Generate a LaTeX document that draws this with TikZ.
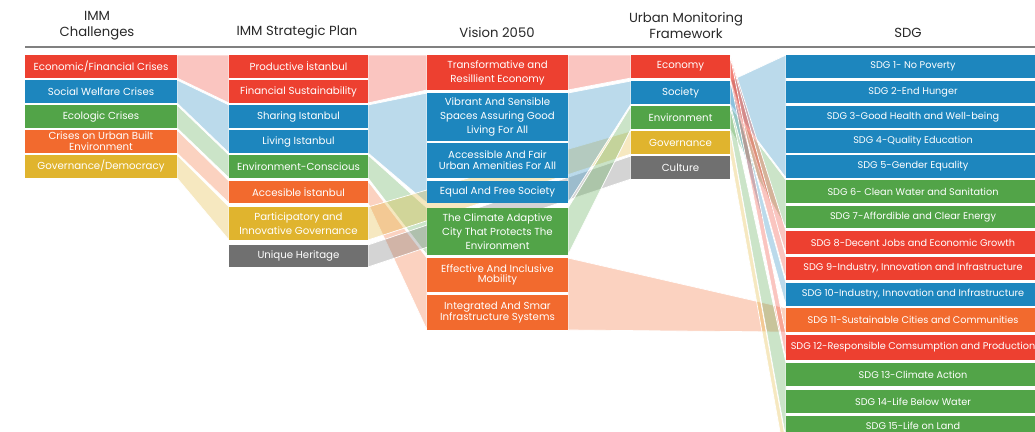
\documentclass[tikz,border=0pt]{standalone}
\usepackage{fontspec}
\setmainfont{Poppins}
\usetikzlibrary{calc,backgrounds}
\definecolor{cRed}{RGB}{237,64,48}
\definecolor{cBlue}{RGB}{29,134,190}
\definecolor{cGreen}{RGB}{82,164,72}
\definecolor{cOrange}{RGB}{242,106,46}
\definecolor{cYellow}{RGB}{224,180,46}
\definecolor{cGray}{RGB}{112,112,112}
\definecolor{cHead}{RGB}{40,40,40}
\definecolor{cRule}{RGB}{128,128,128}
\tikzset{
  box/.style={inner sep=0pt, outer sep=0pt, text=white, align=center, anchor=north west,
              font=\fontsize{10.2}{14}\selectfont},
  tight/.style={font=\fontsize{10.2}{10.7}\selectfont},
  sdg/.style={font=\fontsize{9.7}{12}\selectfont},
  band/.style={fill opacity=0.3, draw=white, draw opacity=1, line width=0.7pt, line join=round},
  head/.style={text=cHead, align=center, font=\fontsize{13.2}{15.5}\selectfont},
  hrule/.style={draw=cRule, line width=2.2pt},
}
\newcommand\flow[5]{\draw[band, fill=#1] (#2) -- (#4) -- (#5) -- (#3) -- cycle;}
\begin{document}
\begin{tikzpicture}[x=1pt,y=-1pt]
\useasboundingbox (0,0) rectangle (1035,431);
\clip (0,0) rectangle (1035,431);

% ---------- headers ----------
\node[head] (h1) at (97,25.5) {IMM\\Challenges};
\node[head] (h2) at (297,32.5) {IMM Strategic Plan};
\node[head] (h3) at (497,32.5) {Vision 2050};
\node[head] (h4) at (686,25.5) {Urban Monitoring\\Framework};
\node[head] (h5) at (908,32.5) {SDG};
\coordinate (rl) at (25,47);
\coordinate (rr) at (1036,47);
\draw[hrule] (rl) -- (rr);

% ---------- boxes (column 1) ----------
\node[box, fill=cRed,    minimum width=152pt, minimum height=23pt] (c1a) at (25,55) {Economic/Financial Crises};
\node[box, fill=cBlue,   minimum width=152pt, minimum height=23pt] (c1b) at (25,80) {Social Welfare Crises};
\node[box, fill=cGreen,  minimum width=152pt, minimum height=23pt] (c1c) at (25,105) {Ecologic Crises};
\node[box, tight, fill=cOrange, minimum width=152pt, minimum height=23pt] (c1d) at (25,130) {Crises on Urban Built\\Environment};
\node[box, fill=cYellow, minimum width=152pt, minimum height=23pt] (c1e) at (25,155) {Governance/Democracy};
% column 2
\node[box, fill=cRed,    minimum width=139pt, minimum height=23pt] (c2a) at (229,55) {Productive İstanbul};
\node[box, fill=cRed,    minimum width=139pt, minimum height=23pt] (c2b) at (229,80) {Financial Sustainability};
\node[box, fill=cBlue,   minimum width=139pt, minimum height=23pt] (c2c) at (229,105) {Sharing Istanbul};
\node[box, fill=cBlue,   minimum width=139pt, minimum height=23pt] (c2d) at (229,130) {Living Istanbul};
\node[box, fill=cGreen,  minimum width=139pt, minimum height=23pt] (c2e) at (229,155) {Environment-Conscious};
\node[box, fill=cOrange, minimum width=139pt, minimum height=22pt] (c2f) at (229,181) {Accesible İstanbul};
\node[box, fill=cYellow, minimum width=139pt, minimum height=33pt] (c2g) at (229,207) {Participatory and\\Innovative Governance};
\node[box, fill=cGray,   minimum width=139pt, minimum height=22pt] (c2h) at (229,245) {Unique Heritage};
% column 3
\node[box, fill=cRed,    minimum width=141pt, minimum height=35pt] (c3a) at (427,55) {Transformative and\\Resillient Economy};
\node[box, fill=cBlue,   minimum width=141pt, minimum height=48pt] (c3b) at (427,93) {Vibrant And Sensible\\Spaces Assuring Good\\Living For All};
\node[box, tight, fill=cBlue, minimum width=141pt, minimum height=35pt] (c3c) at (427,143) {Accessible And Fair\\Urban Amenities For All};
\node[box, fill=cBlue,   minimum width=141pt, minimum height=22pt] (c3d) at (427,181) {Equal And Free Society};
\node[box, fill=cGreen,  minimum width=141pt, minimum height=47pt] (c3e) at (427,208) {The Climate Adaptive\\City That Protects The\\Environment};
\node[box, tight, fill=cOrange, minimum width=141pt, minimum height=34pt] (c3f) at (427,258) {Effective And Inclusive\\Mobility};
\node[box, tight, fill=cOrange, minimum width=141pt, minimum height=35pt] (c3g) at (427,295) {Integrated And Smar\\Infrastructure Systems};
% column 4
\node[box, fill=cRed,    minimum width=99pt, minimum height=23pt] (c4a) at (631,55) {Economy};
\node[box, fill=cBlue,   minimum width=99pt, minimum height=23pt] (c4b) at (631,81) {Society};
\node[box, fill=cGreen,  minimum width=99pt, minimum height=23pt] (c4c) at (631,106) {Environment};
\node[box, fill=cYellow, minimum width=99pt, minimum height=23pt] (c4d) at (631,131) {Governance};
\node[box, fill=cGray,   minimum width=99pt, minimum height=23pt] (c4e) at (631,156) {Culture};
% column 5
\node[box, sdg, fill=cBlue,   minimum width=254pt, minimum height=23pt] (s1)  at (786,55)  {SDG 1- No Poverty};
\node[box, sdg, fill=cBlue,   minimum width=254pt, minimum height=22pt] (s2)  at (786,81)  {SDG 2-End Hunger};
\node[box, sdg, fill=cBlue,   minimum width=254pt, minimum height=22pt] (s3)  at (786,106) {SDG 3-Good Health and Well-being};
\node[box, sdg, fill=cBlue,   minimum width=254pt, minimum height=23pt] (s4)  at (786,130) {SDG 4-Quality Education};
\node[box, sdg, fill=cBlue,   minimum width=254pt, minimum height=23pt] (s5)  at (786,155) {SDG 5-Gender Equality};
\node[box, sdg, fill=cGreen,  minimum width=254pt, minimum height=23pt] (s6)  at (786,180) {SDG 6- Clean Water and Sanitation};
\node[box, sdg, fill=cGreen,  minimum width=254pt, minimum height=22pt] (s7)  at (786,206) {SDG 7-Affordible and Clear Energy};
\node[box, sdg, fill=cRed,    minimum width=254pt, minimum height=23pt] (s8)  at (786,231) {SDG 8-Decent Jobs and Economic Growth};
\node[box, sdg, fill=cRed,    minimum width=254pt, minimum height=23pt] (s9)  at (786,257) {SDG 9-Industry, Innovation and Infrastructure};
\node[box, sdg, fill=cBlue,   minimum width=254pt, minimum height=23pt] (s10) at (786,283) {SDG 10-Industry, Innovation and Infrastructure};
\node[box, sdg, fill=cOrange, minimum width=254pt, minimum height=24pt] (s11) at (786,308) {SDG 11-Sustainable Cities and Communities};
\node[box, sdg, fill=cRed,    minimum width=254pt, minimum height=25pt] (s12) at (786,335) {SDG 12-Responsible Comsumption and Production};
\node[box, sdg, fill=cGreen,  minimum width=254pt, minimum height=23pt] (s13) at (786,363) {SDG 13-Climate Action};
\node[box, sdg, fill=cGreen,  minimum width=254pt, minimum height=23pt] (s14) at (786,390) {SDG 14-Life Below Water};
\node[box, sdg, fill=cGreen,  minimum width=254pt, minimum height=23pt] (s15) at (786,416) {};
\node[sdg, text=white, anchor=base, inner sep=0pt] (s15t) at (913,429.5) {SDG 15-Life on Land};
\coordinate (s16t) at (786,442);
\coordinate (s16b) at (786,465);

% ---------- flows (drawn behind the boxes) ----------
\begin{pgfonlayer}{background}
% column 1 -> column 2
\flow{cRed}{c1a.north east}{c1a.south east}{c2a.north west}{c2b.south west}
\flow{cBlue}{c1b.north east}{c1b.south east}{c2c.north west}{c2d.south west}
\flow{cGreen}{c1c.north east}{c1c.south east}{c2e.north west}{c2e.south west}
\flow{cOrange}{c1d.north east}{c1d.south east}{c2f.north west}{c2f.south west}
\flow{cYellow}{c1e.north east}{c1e.south east}{c2g.north west}{c2g.south west}
% column 2 -> column 3 / 4
\flow{cRed}{c2a.north east}{c2b.south east}{c3a.north west}{c3a.south west}
\flow{cBlue}{c2c.north east}{c2d.south east}{c3b.north west}{c3d.south west}
\flow{cGreen}{c2e.north east}{c2e.south east}{c3e.north west}{c3e.south west}
\flow{cOrange}{c2f.north east}{c2f.south east}{c3f.north west}{c3g.south west}
\flow{cYellow}{c2g.north east}{c2g.south east}{c4d.north west}{c4d.south west}
\flow{cGray}{c2h.north east}{c2h.south east}{c4e.north west}{c4e.south west}
% column 3 -> column 4 / 5
\flow{cRed}{c3a.north east}{c3a.south east}{c4a.north west}{c4a.south west}
\flow{cBlue}{c3b.north east}{c3d.south east}{c4b.north west}{c4b.south west}
\flow{cGreen}{c3e.north east}{c3e.south east}{c4c.north west}{c4c.south west}
\flow{cOrange}{c3f.north east}{c3g.south east}{s11.north west}{s11.south west}
% column 4 -> column 5
\flow{cBlue}{c4b.north east}{c4b.south east}{s1.north west}{s5.south west}
\flow{cGreen}{c4c.north east}{c4c.south east}{s6.north west}{s7.south west}
\flow{cRed}{c4a.north east}{c4a.south east}{s8.north west}{s8.south west}
\flow{cRed}{c4a.north east}{c4a.south east}{s9.north west}{s9.south west}
\flow{cBlue}{c4b.north east}{c4b.south east}{s10.north west}{s10.south west}
\flow{cRed}{c4a.north east}{c4a.south east}{s12.north west}{s12.south west}
\flow{cGreen}{c4c.north east}{c4c.south east}{s13.north west}{s15.south west}
\flow{cYellow}{c4d.north east}{c4d.south east}{s16t}{s16b}
\end{pgfonlayer}
\end{tikzpicture}
\end{document}
